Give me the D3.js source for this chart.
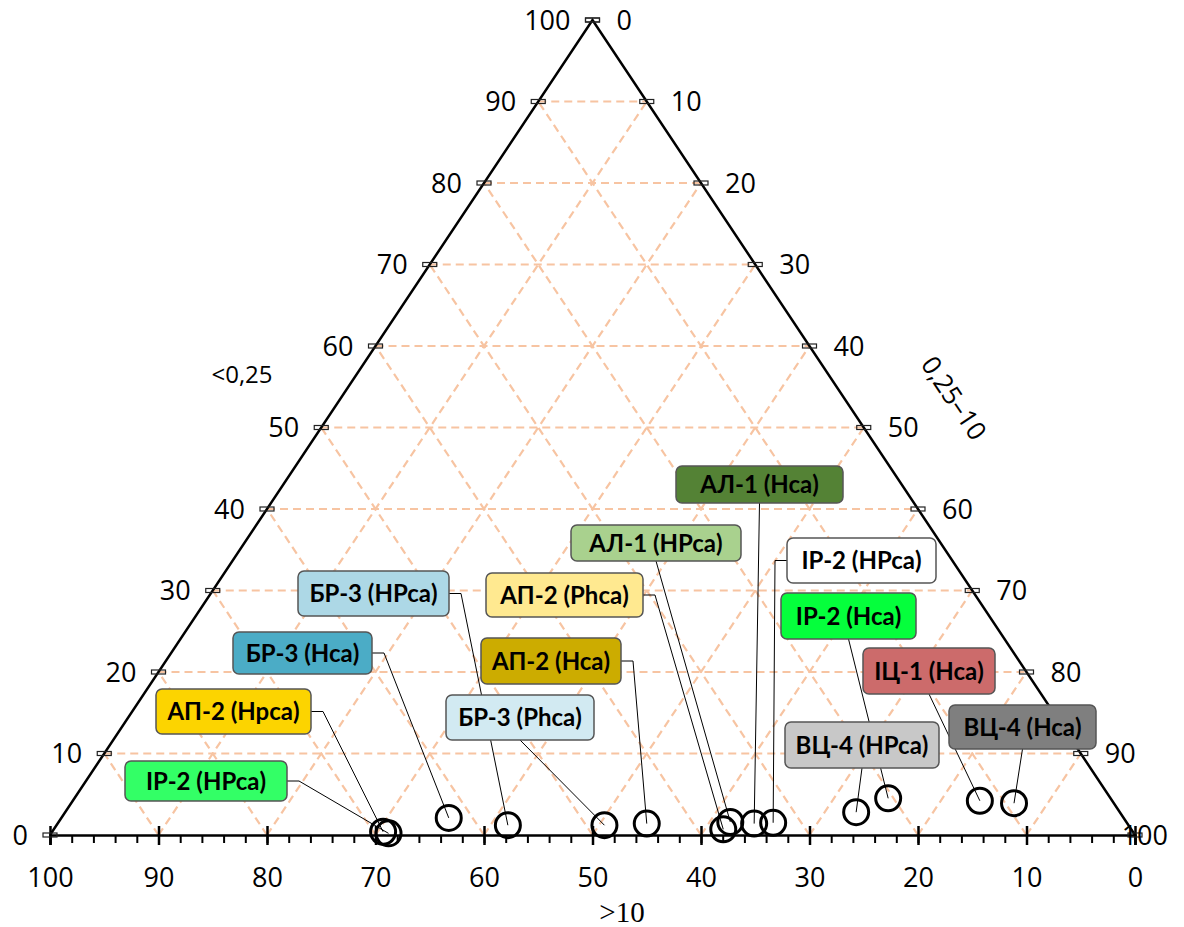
<!DOCTYPE html>
<html>
<head>
<meta charset="utf-8">
<script src="https://cdn.jsdelivr.net/npm/d3@7"></script>
<style>
  body { margin: 0; background: #fff; }
  svg { display: block; }
</style>
</head>
<body>
<svg id="chart" width="1184" height="927"></svg>
<script>
// Sample names and their fraction shares (%), particle size classes in mm
const samples = [
  "ІР-2 (HPca)", "АП-2 (Hpca)", "БР-3 (Hca)", "БР-3 (HPca)", "БР-3 (Phca)",
  "АП-2 (Hca)", "АП-2 (Phca)", "АЛ-1 (HPca)", "АЛ-1 (Hca)", "ІР-2 (HPca)",
  "ВЦ-4 (HPca)", "ІР-2 (Hca)", "ІЦ-1 (Hca)", "ВЦ-4 (Hca)"
];
const fineShare   = [0.2, 0.4, 2.1, 1.2, 1.2, 1.4, 0.7, 1.6, 1.4, 1.5, 2.8, 4.5, 4.2, 3.9];          // <0,25
const mediumShare = [31.1, 30.5, 35.7, 41.6, 50.5, 54.3, 61.7, 61.9, 64.2, 65.9, 72.9, 75.0, 83.6, 86.9]; // 0,25–10
const coarseShare = [68.7, 69.1, 62.2, 57.2, 48.3, 44.3, 37.6, 36.5, 34.4, 32.6, 24.3, 20.5, 12.2, 9.2];  // >10

const axisTicks   = [0, 10, 20, 30, 40, 50, 60, 70, 80, 90, 100];
const minorTicks  = d3.range(0, 101, 2);
const gridLevels  = [10, 20, 30, 40, 50, 60, 70, 80, 90];
const axisTitles  = ["<0,25", "0,25–10", ">10"];

// Callout boxes: placement and fill of each sample's label
const callouts = [
  { x: 125, y: 761, w: 162, h: 40, fill: "#33ff66", anchor: "right" },
  { x: 156, y: 689, w: 155, h: 45, fill: "#fcd400", anchor: "right" },
  { x: 233, y: 632, w: 139, h: 42, fill: "#4bacc6", anchor: "right" },
  { x: 298, y: 571, w: 151, h: 45, fill: "#add8e6", anchor: "right" },
  { x: 446, y: 695, w: 148, h: 45, fill: "#d2eaf2", anchor: "bottom" },
  { x: 481, y: 638, w: 140, h: 46, fill: "#ccac00", anchor: "right" },
  { x: 486, y: 573, w: 157, h: 44, fill: "#ffe990", anchor: "right" },
  { x: 571, y: 525, w: 170, h: 36, fill: "#a9d18e", anchor: "bottom" },
  { x: 676, y: 466, w: 167, h: 37, fill: "#548235", anchor: "bottom" },
  { x: 787, y: 538, w: 149, h: 45, fill: "#ffffff", anchor: "left" },
  { x: 785, y: 722, w: 154, h: 46, fill: "#c8c8c8", anchor: "bottom" },
  { x: 781, y: 593, w: 135, h: 46, fill: "#05ff3c", anchor: "bottom" },
  { x: 863, y: 648, w: 132, h: 46, fill: "#cc6b6b", anchor: "bottom" },
  { x: 949, y: 705, w: 147, h: 44, fill: "#7f7f7f", anchor: "bottom" }
];

const W = 1184, H = 927;
const svg = d3.select("#chart");

// Triangle frame: horizontal position follows (medium + fine/2), vertical follows fine
const xScale = d3.scaleLinear().domain([0, 100]).range([50, 1135]);
const yScale = d3.scaleLinear().domain([0, 100]).range([835, 20]);
const bottomScale = d3.scaleLinear().domain([100, 0]).range([50, 1135]);

function toXY(fine, medium, coarse) {
  const s = fine + medium + coarse;
  const a = fine / s * 100, b = medium / s * 100;
  return [xScale(b + a / 2), yScale(a)];
}

const line = d3.line();

// Dashed grid
const grid = svg.append("g")
  .attr("fill", "none")
  .attr("stroke", "#f7c4a2")
  .attr("stroke-width", 2.2)
  .attr("stroke-dasharray", "8,5");

gridLevels.forEach(k => {
  // constant fine share
  grid.append("path").attr("d", line([toXY(k, 0, 100 - k), toXY(k, 100 - k, 0)]));
  // constant medium share
  grid.append("path").attr("d", line([toXY(0, k, 100 - k), toXY(100 - k, k, 0)]));
  // constant coarse share
  grid.append("path").attr("d", line([toXY(0, 100 - k, k), toXY(100 - k, 0, k)]));
});

// Triangle edges
svg.append("path")
  .attr("d", line([toXY(0, 0, 100), toXY(100, 0, 0), toXY(0, 100, 0)]))
  .attr("fill", "none")
  .attr("stroke", "#000")
  .attr("stroke-width", 2.5)
  .attr("stroke-linejoin", "miter");

// Bottom axis (>10)
const minorAxis = svg.append("g")
  .attr("transform", `translate(0,${yScale(0)})`)
  .call(d3.axisBottom(bottomScale).tickValues(minorTicks).tickSize(8).tickFormat(""));
minorAxis.select(".domain").remove();
minorAxis.selectAll(".tick line").attr("stroke", "#000").attr("stroke-width", 2);

const bottomAxis = svg.append("g")
  .attr("transform", `translate(0,${yScale(0)})`)
  .call(d3.axisBottom(bottomScale).tickValues(axisTicks).tickSizeOuter(0).tickSize(10).tickPadding(23));
bottomAxis.select(".domain").attr("stroke", "#000").attr("stroke-width", 2.5);
bottomAxis.selectAll(".tick line").attr("y1", -9).attr("stroke", "#000").attr("stroke-width", 2.5);
bottomAxis.selectAll(".tick text")
  .attr("font-family", "'Open Sans', sans-serif")
  .attr("font-size", 27)
  .attr("fill", "#000");

// Side axes: small bar ticks with labels
const sideFont = { family: "'Open Sans', sans-serif", size: 27 };
const leftAxis = svg.append("g");
axisTicks.forEach(v => {
  const [x, y] = toXY(v, 0, 100 - v);
  leftAxis.append("rect")
    .attr("x", x - 7).attr("y", y - 2).attr("width", 14).attr("height", 4)
    .attr("fill", "none").attr("stroke", "#222").attr("stroke-width", 1.2);
  leftAxis.append("text")
    .attr("x", x - 22).attr("y", y)
    .attr("dy", "0.36em")
    .attr("text-anchor", "end")
    .attr("font-family", sideFont.family).attr("font-size", sideFont.size)
    .text(v);
});

const rightAxis = svg.append("g");
axisTicks.forEach(v => {
  const [x, y] = toXY(100 - v, v, 0);
  rightAxis.append("rect")
    .attr("x", x - 7).attr("y", y - 2).attr("width", 14).attr("height", 4)
    .attr("fill", "none").attr("stroke", "#222").attr("stroke-width", 1.2);
  const t = rightAxis.append("text")
    .attr("x", x + 24).attr("y", y)
    .attr("dy", "0.36em")
    .attr("text-anchor", "start")
    .attr("font-family", sideFont.family).attr("font-size", sideFont.size)
    .text(v);
  const tw = t.node().getComputedTextLength();
  if (x + 24 + tw > W - 16) t.attr("x", W - 16 - tw);
});

// Axis titles
svg.append("text")
  .attr("x", 242).attr("y", 374).attr("dy", "0.36em")
  .attr("text-anchor", "middle")
  .attr("font-family", "'Open Sans', sans-serif").attr("font-size", 24)
  .text(axisTitles[0]);

svg.append("text")
  .attr("transform", "translate(954,398) rotate(56)")
  .attr("dy", "0.36em")
  .attr("text-anchor", "middle")
  .attr("font-family", "'Open Sans', sans-serif").attr("font-size", 26)
  .text(axisTitles[1]);

svg.append("text")
  .attr("x", 622).attr("y", 922)
  .attr("text-anchor", "middle")
  .attr("font-family", "'Liberation Serif', 'Times New Roman', serif").attr("font-size", 29)
  .text(axisTitles[2]);

// Points
const points = samples.map((name, i) => ({
  name,
  pos: toXY(fineShare[i], mediumShare[i], coarseShare[i]),
  box: callouts[i]
}));

// Leader lines
svg.append("g")
  .attr("fill", "none").attr("stroke", "#000").attr("stroke-width", 1)
  .selectAll("path")
  .data(points)
  .join("path")
  .attr("d", d => {
    const b = d.box, [px, py] = d.pos;
    if (b.anchor === "right") {
      const my = b.y + b.h / 2;
      return line([[b.x + b.w, my], [b.x + b.w + 12, my], [px, py]]);
    }
    if (b.anchor === "left") {
      const my = b.y + b.h / 2;
      return line([[b.x, my], [b.x - 12, my], [px, py]]);
    }
    return line([[b.x + b.w / 2, b.y + b.h], [px, py]]);
  });

svg.append("g")
  .selectAll("circle")
  .data(points)
  .join("circle")
  .attr("cx", d => d.pos[0])
  .attr("cy", d => d.pos[1])
  .attr("r", 12.5)
  .attr("fill", "none")
  .attr("stroke", "#000")
  .attr("stroke-width", 3);

// Callout boxes
const boxes = svg.append("g")
  .selectAll("g")
  .data(points)
  .join("g");

boxes.append("rect")
  .attr("x", d => d.box.x).attr("y", d => d.box.y)
  .attr("width", d => d.box.w).attr("height", d => d.box.h)
  .attr("rx", 6)
  .attr("fill", d => d.box.fill)
  .attr("stroke", "#555").attr("stroke-width", 1.5);

boxes.append("text")
  .attr("x", d => d.box.x + d.box.w / 2)
  .attr("y", d => d.box.y + d.box.h / 2)
  .attr("dy", "0.36em")
  .attr("text-anchor", "middle")
  .attr("font-family", "Lato, 'Open Sans', sans-serif")
  .attr("font-weight", "bold")
  .attr("font-size", 24)
  .attr("fill", "#000")
  .text(d => d.name);
</script>
</body>
</html>
